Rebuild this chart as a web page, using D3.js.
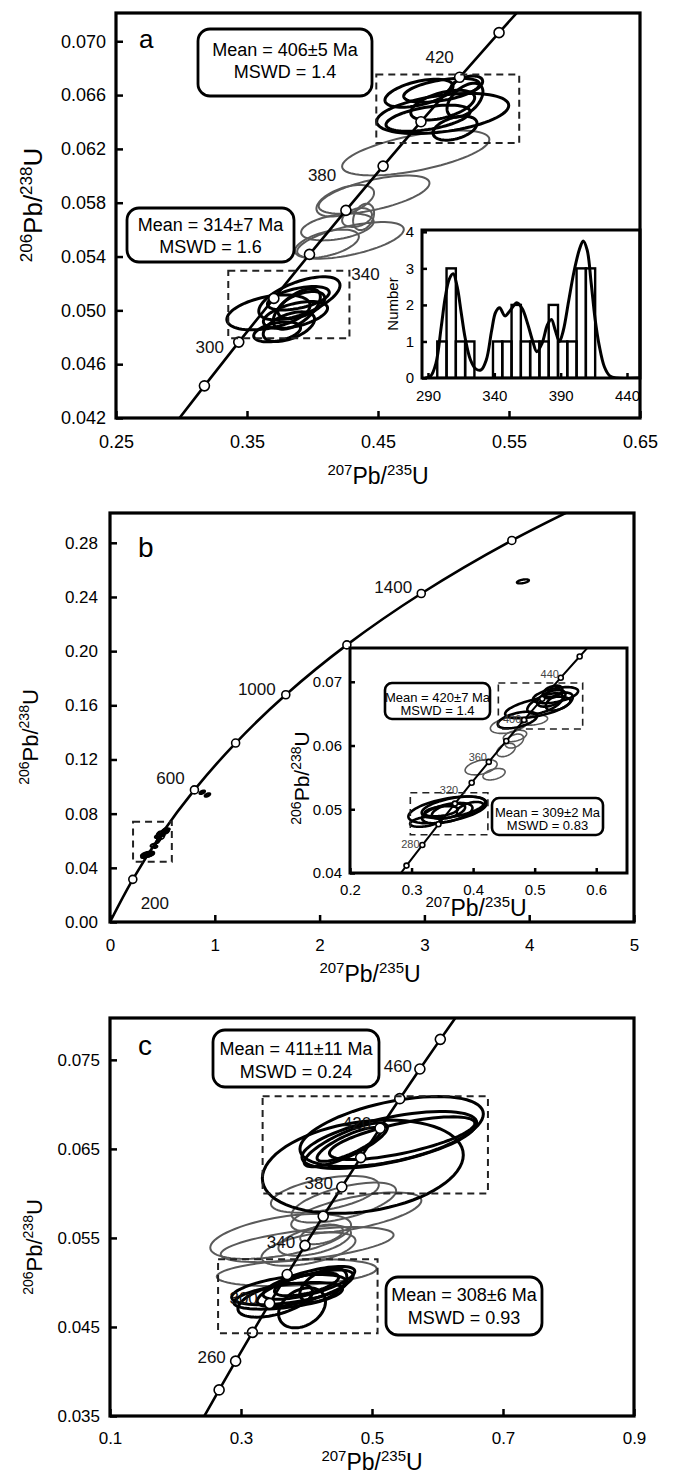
<!DOCTYPE html>
<html>
<head>
<meta charset="utf-8">
<script src="https://cdn.jsdelivr.net/npm/d3@7"></script>
<style>
  body { margin: 0; background: #fff; }
</style>
</head>
<body>
<div id="container"></div>
<script>
/* CONSTANTS AND GLOBALS */
const width = 675,
  height = 1479;
const font = '"Liberation Sans", Arial, Helvetica, sans-serif';

/* DATA */
// points along the concordia: [age Ma, 207Pb/235U, 206Pb/238U]
const concordiaNear = [
  [220, 0.2419, 0.03472], [240, 0.2666, 0.03793], [260, 0.2918, 0.04116],
  [280, 0.3175, 0.04439], [300, 0.3437, 0.04764], [320, 0.3705, 0.05089],
  [340, 0.3977, 0.05416], [360, 0.4255, 0.05743], [380, 0.4539, 0.06072],
  [400, 0.4828, 0.06402], [420, 0.5123, 0.06732], [440, 0.5424, 0.07064],
  [460, 0.5731, 0.07397], [480, 0.6043, 0.07730], [500, 0.6363, 0.08065]
];
const concordiaFar = [
  [0, 0, 0], [200, 0.2177, 0.03151], [400, 0.4828, 0.06402], [600, 0.8057, 0.09754],
  [800, 1.1987, 0.13213], [1000, 1.6774, 0.16781], [1200, 2.2603, 0.20461],
  [1400, 2.9701, 0.24256], [1600, 3.8344, 0.28171], [1800, 4.8869, 0.32210]
];

const markerAgesA = [280, 300, 320, 340, 360, 380, 400, 420, 440];
const labelAgesA = [300, 340, 380, 420];
const markerAgesB = [200, 400, 600, 800, 1000, 1200, 1400, 1600];
const labelAgesB = [200, 600, 1000, 1400];
const markerAgesInset = [260, 280, 300, 320, 340, 360, 380, 400, 420, 440, 460];
const labelAgesInset = [280, 320, 360, 400, 440];
const markerAgesC = [240, 260, 280, 300, 320, 340, 360, 380, 400, 420, 440, 460, 480];
const labelAgesC = [260, 300, 340, 380, 420, 460];

// analyses: [207Pb/235U, half-width, 206Pb/238U, half-height, rho]
const spotsA_old = [
  [0.4813, 0.0260, 0.06614, 0.00104, 0.5], [0.4986, 0.0290, 0.06636, 0.00089, 0.5],
  [0.4994, 0.0504, 0.06463, 0.00149, 0.4], [0.4882, 0.0321, 0.06428, 0.00097, 0.5],
  [0.5088, 0.0168, 0.06354, 0.00089, 0.4], [0.5164, 0.0137, 0.06562, 0.00126, 0.5],
  [0.4994, 0.0244, 0.06525, 0.00111, 0.5], [0.5177, 0.0122, 0.06675, 0.00067, 0.4]
];
const spotsA_mid = [
  [0.4788, 0.0562, 0.0617, 0.00167, 0.6], [0.4470, 0.0423, 0.0586, 0.00142, 0.6],
  [0.4250, 0.0220, 0.05815, 0.00117, 0.5], [0.4190, 0.0277, 0.0562, 0.0010, 0.4],
  [0.4290, 0.0407, 0.0552, 0.00136, 0.6], [0.4110, 0.0244, 0.05495, 0.00105, 0.5],
  [0.4390, 0.0080, 0.05695, 0.00098, 0.3], [0.4340, 0.0114, 0.0569, 0.0007, 0.3]
];
const spotsA_young = [
  [0.3664, 0.0318, 0.04985, 0.0013, 0.4], [0.3900, 0.0310, 0.0509, 0.0016, 0.6],
  [0.3892, 0.0236, 0.0509, 0.00087, 0.5], [0.3870, 0.0245, 0.04966, 0.0010, 0.5],
  [0.3820, 0.0196, 0.04879, 0.0011, 0.5], [0.3880, 0.0180, 0.0501, 0.0015, 0.6],
  [0.3915, 0.0179, 0.0504, 0.0010, 0.5], [0.3730, 0.0179, 0.0484, 0.00074, 0.4]
];

const spotsB_old = [
  [0.505, 0.053, 0.06598, 0.0017, 0.6], [0.472, 0.032, 0.0640, 0.0013, 0.5],
  [0.534, 0.0366, 0.0679, 0.00126, 0.5], [0.517, 0.029, 0.0666, 0.0016, 0.6],
  [0.527, 0.023, 0.0674, 0.0013, 0.5], [0.540, 0.022, 0.0669, 0.0014, 0.5],
  [0.529, 0.016, 0.0684, 0.0010, 0.4]
];
const spotsB_mid = [
  [0.458, 0.030, 0.0632, 0.0013, 0.4], [0.499, 0.022, 0.0640, 0.0008, 0.3],
  [0.468, 0.019, 0.0615, 0.0009, 0.4], [0.467, 0.015, 0.0607, 0.0011, 0.4],
  [0.4534, 0.015, 0.0593, 0.00105, 0.4], [0.413, 0.026, 0.0566, 0.0012, 0.4],
  [0.434, 0.018, 0.0555, 0.0009, 0.4]
];
const spotsB_young = [
  [0.3585, 0.0637, 0.0499, 0.0021, 0.5], [0.368, 0.0515, 0.0503, 0.0017, 0.5],
  [0.322, 0.0244, 0.04805, 0.0008, 0.4], [0.358, 0.041, 0.0494, 0.0016, 0.5],
  [0.360, 0.027, 0.0497, 0.0012, 0.5], [0.348, 0.027, 0.0497, 0.0008, 0.4],
  [0.395, 0.0217, 0.0501, 0.00105, 0.5]
];
const spotsB_discordant = [
  [0.88, 0.025, 0.0958, 0.0012, 0.6], [0.93, 0.025, 0.0938, 0.0012, 0.6],
  [3.94, 0.057, 0.2515, 0.0015, 0.5]
];

const spotsC_old = [
  [0.486, 0.1534, 0.0630, 0.00524, 0.25], [0.530, 0.140, 0.06695, 0.00393, 0.5],
  [0.5265, 0.1335, 0.0660, 0.0032, 0.6], [0.460, 0.0636, 0.06545, 0.00245, 0.8],
  [0.465, 0.0489, 0.0655, 0.0019, 0.8], [0.546, 0.111, 0.0662, 0.0024, 0.7]
];
const spotsC_mid = [
  [0.428, 0.0824, 0.0599, 0.00206, 0.5], [0.457, 0.0798, 0.05897, 0.00225, 0.6],
  [0.476, 0.0994, 0.05786, 0.00225, 0.6], [0.3606, 0.1075, 0.05517, 0.00253, 0.5],
  [0.401, 0.132, 0.05425, 0.00197, 0.55], [0.403, 0.0718, 0.05375, 0.00187, 0.5],
  [0.4125, 0.0554, 0.0547, 0.0017, 0.5], [0.423, 0.0326, 0.0554, 0.0011, 0.4],
  [0.385, 0.122, 0.0511, 0.0015, 0.3]
];
const spotsC_young = [
  [0.3737, 0.088, 0.0492, 0.0017, 0.5], [0.372, 0.083, 0.0485, 0.0015, 0.5],
  [0.398, 0.0733, 0.04934, 0.00206, 0.7], [0.4037, 0.070, 0.04995, 0.00185, 0.7],
  [0.4001, 0.049, 0.0498, 0.0013, 0.6], [0.3932, 0.0358, 0.04715, 0.00225, 0.3],
  [0.3523, 0.057, 0.0480, 0.0019, 0.5], [0.4257, 0.0358, 0.0497, 0.0019, 0.5]
];

// age histogram (panel a inset)
const histBinStart = [297, 304, 311, 318, 339, 346, 353, 360, 367, 374, 381, 388, 395, 402, 409];
const histCounts = [1, 3, 1, 1, 1, 1, 2, 1, 1, 1, 2, 1, 1, 3, 3];
const histBinWidth = 7;
const kdeAges = [288, 292, 296, 300, 303, 306, 309, 312, 315, 318, 322, 326, 330, 334, 338, 341, 344, 348, 352, 357,
  361, 365, 369, 372, 376, 380, 383, 386, 389, 392, 396, 400, 404, 407, 410, 413, 416, 419, 423, 427, 432, 449];
const kdeCounts = [0, 0.05, 0.4, 1.4, 2.2, 2.7, 2.85, 2.5, 1.8, 1.1, 0.5, 0.25, 0.22, 0.5, 1.3, 1.8, 1.92, 1.7, 1.85, 2.06,
  1.9, 1.5, 1.0, 0.72, 0.95, 1.45, 1.6, 1.3, 1.0, 1.3, 2.1, 2.9, 3.5, 3.75, 3.5, 2.6, 1.6, 0.9, 0.3, 0.06, 0, 0];

// group frames (dashed), [x0, x1, y0, y1] in ratio units
const groupsA = [[0.4487, 0.5578, 0.06243, 0.06752], [0.3357, 0.4282, 0.04793, 0.05295]];
const groupsB = [[0.22, 0.59, 0.0444, 0.074]];
const groupsInset = [[0.441, 0.578, 0.0626, 0.0698], [0.298, 0.424, 0.046, 0.0526]];
const groupsC = [[0.333, 0.677, 0.0600, 0.0709], [0.265, 0.5085, 0.0443, 0.0526]];

// weighted means
const meanA_old = ["Mean = 406±5 Ma", "MSWD = 1.4"];
const meanA_young = ["Mean = 314±7 Ma", "MSWD = 1.6"];
const meanB_old = ["Mean = 420±7 Ma", "MSWD = 1.4"];
const meanB_young = ["Mean = 309±2  Ma", "MSWD = 0.83"];
const meanC_old = ["Mean = 411±11 Ma", "MSWD = 0.24"];
const meanC_young = ["Mean = 308±6 Ma", "MSWD = 0.93"];

// ticks
const ticksA_x = [0.25, 0.35, 0.45, 0.55, 0.65];
const ticksA_y = [0.042, 0.046, 0.050, 0.054, 0.058, 0.062, 0.066, 0.070];
const ticksB_x = [0, 1, 2, 3, 4, 5];
const ticksB_y = [0, 0.04, 0.08, 0.12, 0.16, 0.20, 0.24, 0.28];
const ticksInset_x = [0.2, 0.3, 0.4, 0.5, 0.6];
const ticksInset_y = [0.04, 0.05, 0.06, 0.07];
const ticksC_x = [0.1, 0.3, 0.5, 0.7, 0.9];
const ticksC_y = [0.035, 0.045, 0.055, 0.065, 0.075];
const ticksHist_x = [290, 340, 390, 440];
const ticksHist_y = [0, 1, 2, 3, 4];

/* LAYOUT */
const frameA = { left: 116, right: 640, top: 13, bottom: 418 };
const frameB = { left: 110, right: 634, top: 513, bottom: 922 };
const frameInset = { left: 350, right: 627, top: 648, bottom: 873 };
const frameC = { left: 110, right: 634, top: 1018, bottom: 1416 };
const frameHist = { left: 422, right: 640, top: 230, bottom: 378 };

const svg = d3.select("#container")
  .append("svg")
  .attr("width", width)
  .attr("height", height)
  .attr("font-family", font);

const defs = svg.append("defs");

/* HELPERS */
function makeScales(f, xDomain, yDomain, id) {
  defs.append("clipPath").attr("id", id)
    .append("rect")
    .attr("x", f.left).attr("y", f.top)
    .attr("width", f.right - f.left).attr("height", f.bottom - f.top);
  return {
    x: d3.scaleLinear().domain(xDomain).range([f.left, f.right]),
    y: d3.scaleLinear().domain(yDomain).range([f.bottom, f.top]),
    clip: `url(#${id})`
  };
}

function ellipsePath(s, d) {
  const [cx, sx, cy, sy, rho] = d;
  const k = Math.sqrt(1 - rho * rho);
  const pts = d3.range(72).map(i => {
    const t = i / 72 * 2 * Math.PI;
    return [s.x(cx + sx * Math.cos(t)), s.y(cy + sy * (rho * Math.cos(t) + k * Math.sin(t)))];
  });
  return d3.line().curve(d3.curveLinearClosed)(pts);
}

function drawSpots(layer, s, spots, color, lw) {
  layer.append("g")
    .selectAll("path")
    .data(spots)
    .join("path")
    .attr("d", d => ellipsePath(s, d))
    .attr("fill", "none")
    .attr("stroke", color)
    .attr("stroke-width", lw);
}

function drawConcordia(layer, s, pts, ages, r, lw) {
  layer.append("path")
    .datum(pts)
    .attr("d", d3.line().curve(d3.curveCatmullRom).x(d => s.x(d[1])).y(d => s.y(d[2])))
    .attr("fill", "none")
    .attr("stroke", "#000")
    .attr("stroke-width", lw);
  layer.append("g")
    .selectAll("circle")
    .data(pts.filter(d => ages.includes(d[0])))
    .join("circle")
    .attr("cx", d => s.x(d[1]))
    .attr("cy", d => s.y(d[2]))
    .attr("r", r)
    .attr("fill", "#fff")
    .attr("stroke", "#000")
    .attr("stroke-width", 1.6);
}

function drawAgeLabels(layer, s, pts, ages, offsets, fs, color) {
  layer.append("g")
    .selectAll("text")
    .data(pts.filter(d => ages.includes(d[0])))
    .join("text")
    .attr("x", d => s.x(d[1]) + offsets[d[0]][0])
    .attr("y", d => s.y(d[2]) + offsets[d[0]][1])
    .attr("dy", "0.35em")
    .attr("text-anchor", "middle")
    .attr("font-size", fs)
    .attr("fill", color)
    .text(d => d[0]);
}

function drawGroups(layer, s, groups, lw) {
  layer.append("g")
    .selectAll("rect")
    .data(groups)
    .join("rect")
    .attr("x", d => s.x(d[0]))
    .attr("y", d => s.y(d[3]))
    .attr("width", d => s.x(d[1]) - s.x(d[0]))
    .attr("height", d => s.y(d[2]) - s.y(d[3]))
    .attr("fill", "none")
    .attr("stroke", "#222")
    .attr("stroke-width", lw)
    .attr("stroke-dasharray", "7,5");
}

function drawMeanBox(f, b, lines, fs, lw) {
  const g = svg.append("g").attr("transform", `translate(${f.left},${f.top})`);
  g.append("rect")
    .attr("x", b.x0).attr("y", b.y0)
    .attr("width", b.x1 - b.x0).attr("height", b.y1 - b.y0)
    .attr("rx", b.r).attr("fill", "#fff")
    .attr("stroke", "#000").attr("stroke-width", lw);
  g.selectAll("text")
    .data(lines)
    .join("text")
    .attr("x", (b.x0 + b.x1) / 2)
    .attr("y", (d, i) => b.base[i])
    .attr("text-anchor", "middle")
    .attr("font-size", fs)
    .text(d => d);
}

function drawAxes(f, s, xt, yt, xFmt, yFmt, fs, xPad, yPad, tick) {
  svg.append("g")
    .attr("transform", `translate(0,${f.bottom})`)
    .call(d3.axisBottom(s.x).tickValues(xt).tickFormat(d3.format(xFmt))
      .tickSizeInner(-tick).tickSizeOuter(0).tickPadding(xPad))
    .attr("font-family", font).attr("font-size", fs)
    .call(g => g.select(".domain").remove())
    .call(g => g.selectAll(".tick line").attr("stroke-width", 2.5));
  svg.append("g")
    .attr("transform", `translate(${f.left},0)`)
    .call(d3.axisLeft(s.y).tickValues(yt).tickFormat(d3.format(yFmt))
      .tickSizeInner(-tick).tickSizeOuter(0).tickPadding(yPad))
    .attr("font-family", font).attr("font-size", fs)
    .call(g => g.select(".domain").remove())
    .call(g => g.selectAll(".tick line").attr("stroke-width", 2.5));
}

function drawBorder(f, lw) {
  svg.append("rect")
    .attr("x", f.left).attr("y", f.top)
    .attr("width", f.right - f.left).attr("height", f.bottom - f.top)
    .attr("fill", "none").attr("stroke", "#000").attr("stroke-width", lw);
}

function isoLabel(x, y, rotate, top, bottom, size, supSize) {
  const t = svg.append("text")
    .attr("text-anchor", "middle")
    .attr("font-size", size)
    .attr("transform", `translate(${x},${y})` + (rotate ? " rotate(-90)" : ""));
  const up = -size * 0.4;
  t.append("tspan").attr("font-size", supSize).attr("dy", up).text(top);
  t.append("tspan").attr("dy", -up).text("Pb/");
  t.append("tspan").attr("font-size", supSize).attr("dy", up).text(bottom);
  t.append("tspan").attr("dy", -up).text("U");
}

function panelLetter(f, dx, dy, fs, letter) {
  svg.append("text")
    .attr("x", f.left + dx).attr("y", f.top + dy)
    .attr("font-size", fs)
    .text(letter);
}

const grey = "#5a5a5a";

/* PANEL A */
const sA = makeScales(frameA, [0.25, 0.65], [0.042, 0.0721], "clipA");
const plotA = svg.append("g").attr("clip-path", sA.clip);
drawSpots(plotA, sA, spotsA_mid, grey, 2);
drawSpots(plotA, sA, spotsA_old, "#000", 3);
drawSpots(plotA, sA, spotsA_young, "#000", 3);
drawConcordia(plotA, sA, concordiaNear, markerAgesA, 5, 2.6);
drawGroups(plotA, sA, groupsA, 2);
drawAgeLabels(svg, sA, concordiaNear, labelAgesA,
  { 300: [-29, 5], 340: [56, 20], 380: [-61, 9], 420: [-20, -20] }, 17, "#111");
drawMeanBox(frameA, { x0: 82, y0: 16, x1: 256, y1: 83, r: 12, base: [43, 65] }, meanA_old, 18, 2.8);
drawMeanBox(frameA, { x0: 11, y0: 195, x1: 178, y1: 249, r: 12, base: [218, 240] }, meanA_young, 18, 2.8);

// histogram inset
const sH = makeScales(frameHist, [285.5, 449.8], [0, 4.05], "clipH");
svg.append("rect")
  .attr("x", frameHist.left).attr("y", frameHist.top)
  .attr("width", frameHist.right - frameHist.left).attr("height", frameHist.bottom - frameHist.top)
  .attr("fill", "#fff");
const histG = svg.append("g").attr("clip-path", sH.clip);
histG.selectAll("rect")
  .data(histBinStart.map((b, i) => [b, histCounts[i]]))
  .join("rect")
  .attr("x", d => sH.x(d[0]))
  .attr("y", d => sH.y(d[1]))
  .attr("width", sH.x(histBinWidth) - sH.x(0))
  .attr("height", d => sH.y(0) - sH.y(d[1]))
  .attr("fill", "none")
  .attr("stroke", "#000")
  .attr("stroke-width", 2.4);
histG.append("path")
  .datum(kdeAges.map((a, i) => [a, kdeCounts[i]]))
  .attr("d", d3.line().curve(d3.curveCatmullRom).x(d => sH.x(d[0])).y(d => sH.y(d[1])))
  .attr("fill", "none")
  .attr("stroke", "#000")
  .attr("stroke-width", 3);
drawAxes(frameHist, sH, ticksHist_x, ticksHist_y, "d", "d", 15, 12, 8, 5);
drawBorder(frameHist, 3);
svg.append("text")
  .attr("transform", `translate(398,${(frameHist.top + frameHist.bottom) / 2}) rotate(-90)`)
  .attr("text-anchor", "middle")
  .attr("font-size", 15)
  .text("Number");

drawAxes(frameA, sA, ticksA_x, ticksA_y, ".2f", ".3f", 18, 17, 10, 7);
drawBorder(frameA, 3.2);
panelLetter(frameA, 23, 35, 26, "a");
isoLabel(378, 484, false, "207", "235", 23, 15);
isoLabel(42, 205, true, "206", "238", 26, 17);

/* PANEL B */
const sB = makeScales(frameB, [0, 5], [0, 0.302], "clipB");
const plotB = svg.append("g").attr("clip-path", sB.clip);
drawConcordia(plotB, sB, concordiaFar, markerAgesB, 4, 2.6);
drawSpots(plotB, sB, spotsB_mid, "#000", 2);
drawSpots(plotB, sB, spotsB_old, "#000", 2);
drawSpots(plotB, sB, spotsB_young, "#000", 2);
drawSpots(plotB, sB, spotsB_discordant, "#000", 2.4);
drawGroups(plotB, sB, groupsB, 2);
drawAgeLabels(svg, sB, concordiaFar, labelAgesB,
  { 200: [22, 24], 600: [-24, -12], 1000: [-29, -6], 1400: [-28, -6] }, 17, "#111");

// inset of panel b
const sI = makeScales(frameInset, [0.2, 0.65], [0.04, 0.0753], "clipI");
svg.append("rect")
  .attr("x", frameInset.left).attr("y", frameInset.top)
  .attr("width", frameInset.right - frameInset.left).attr("height", frameInset.bottom - frameInset.top)
  .attr("fill", "#fff");
const plotI = svg.append("g").attr("clip-path", sI.clip);
drawSpots(plotI, sI, spotsB_mid, grey, 1.6);
drawSpots(plotI, sI, spotsB_old, "#000", 2.6);
drawSpots(plotI, sI, spotsB_young, "#000", 2.6);
drawConcordia(plotI, sI, concordiaNear, markerAgesInset, 2.5, 2);
drawGroups(plotI, sI, groupsInset, 1.6);
drawAgeLabels(plotI, sI, concordiaNear, labelAgesInset,
  { 280: [-12, -1], 320: [-6, -13], 360: [-11, -5], 400: [-12, -1], 440: [-11, -4] }, 11, "#444");
drawMeanBox(frameInset, { x0: 35, y0: 35, x1: 140, y1: 71, r: 7, base: [54, 67] }, meanB_old, 13, 2.6);
drawMeanBox(frameInset, { x0: 142, y0: 150, x1: 253, y1: 187, r: 7, base: [169, 182] }, meanB_young, 13, 2.6);
drawAxes(frameInset, sI, ticksInset_x, ticksInset_y, ".1f", ".2f", 15, 11, 8, 5);
drawBorder(frameInset, 3);
isoLabel(476, 916, false, "207", "235", 23, 15);
isoLabel(309, 778, true, "206", "238", 21, 14);

drawAxes(frameB, sB, ticksB_x, ticksB_y, "d", ".2f", 17, 17, 12, 7);
drawBorder(frameB, 3.2);
panelLetter(frameB, 28, 44, 28, "b");
isoLabel(370, 982, false, "207", "235", 23, 15);
isoLabel(38, 737, true, "206", "238", 22, 14);

/* PANEL C */
const sC = makeScales(frameC, [0.1, 0.9], [0.035, 0.0797], "clipC");
const plotC = svg.append("g").attr("clip-path", sC.clip);
drawSpots(plotC, sC, spotsC_mid, grey, 2);
drawSpots(plotC, sC, spotsC_old, "#000", 3);
drawSpots(plotC, sC, spotsC_young, "#000", 3);
drawConcordia(plotC, sC, concordiaNear, markerAgesC, 5, 2.6);
drawGroups(plotC, sC, groupsC, 2);
drawAgeLabels(svg, sC, concordiaNear, labelAgesC,
  { 260: [-24, -4], 300: [-26, -5], 340: [-24, -3], 380: [-23, -4], 420: [-23, -5], 460: [-22, -3] }, 17, "#111");
drawMeanBox(frameC, { x0: 103, y0: 12, x1: 269, y1: 69, r: 12, base: [37, 60] }, meanC_old, 18, 2.8);
drawMeanBox(frameC, { x0: 276, y0: 259, x1: 432, y1: 317, r: 12, base: [283, 306] }, meanC_young, 18, 2.8);
drawAxes(frameC, sC, ticksC_x, ticksC_y, ".1f", ".3f", 17, 16, 10, 7);
drawBorder(frameC, 3.2);
panelLetter(frameC, 28, 37, 28, "c");
isoLabel(372, 1470, false, "207", "235", 23, 15);
isoLabel(42, 1247, true, "206", "238", 22, 14);
</script>
</body>
</html>
